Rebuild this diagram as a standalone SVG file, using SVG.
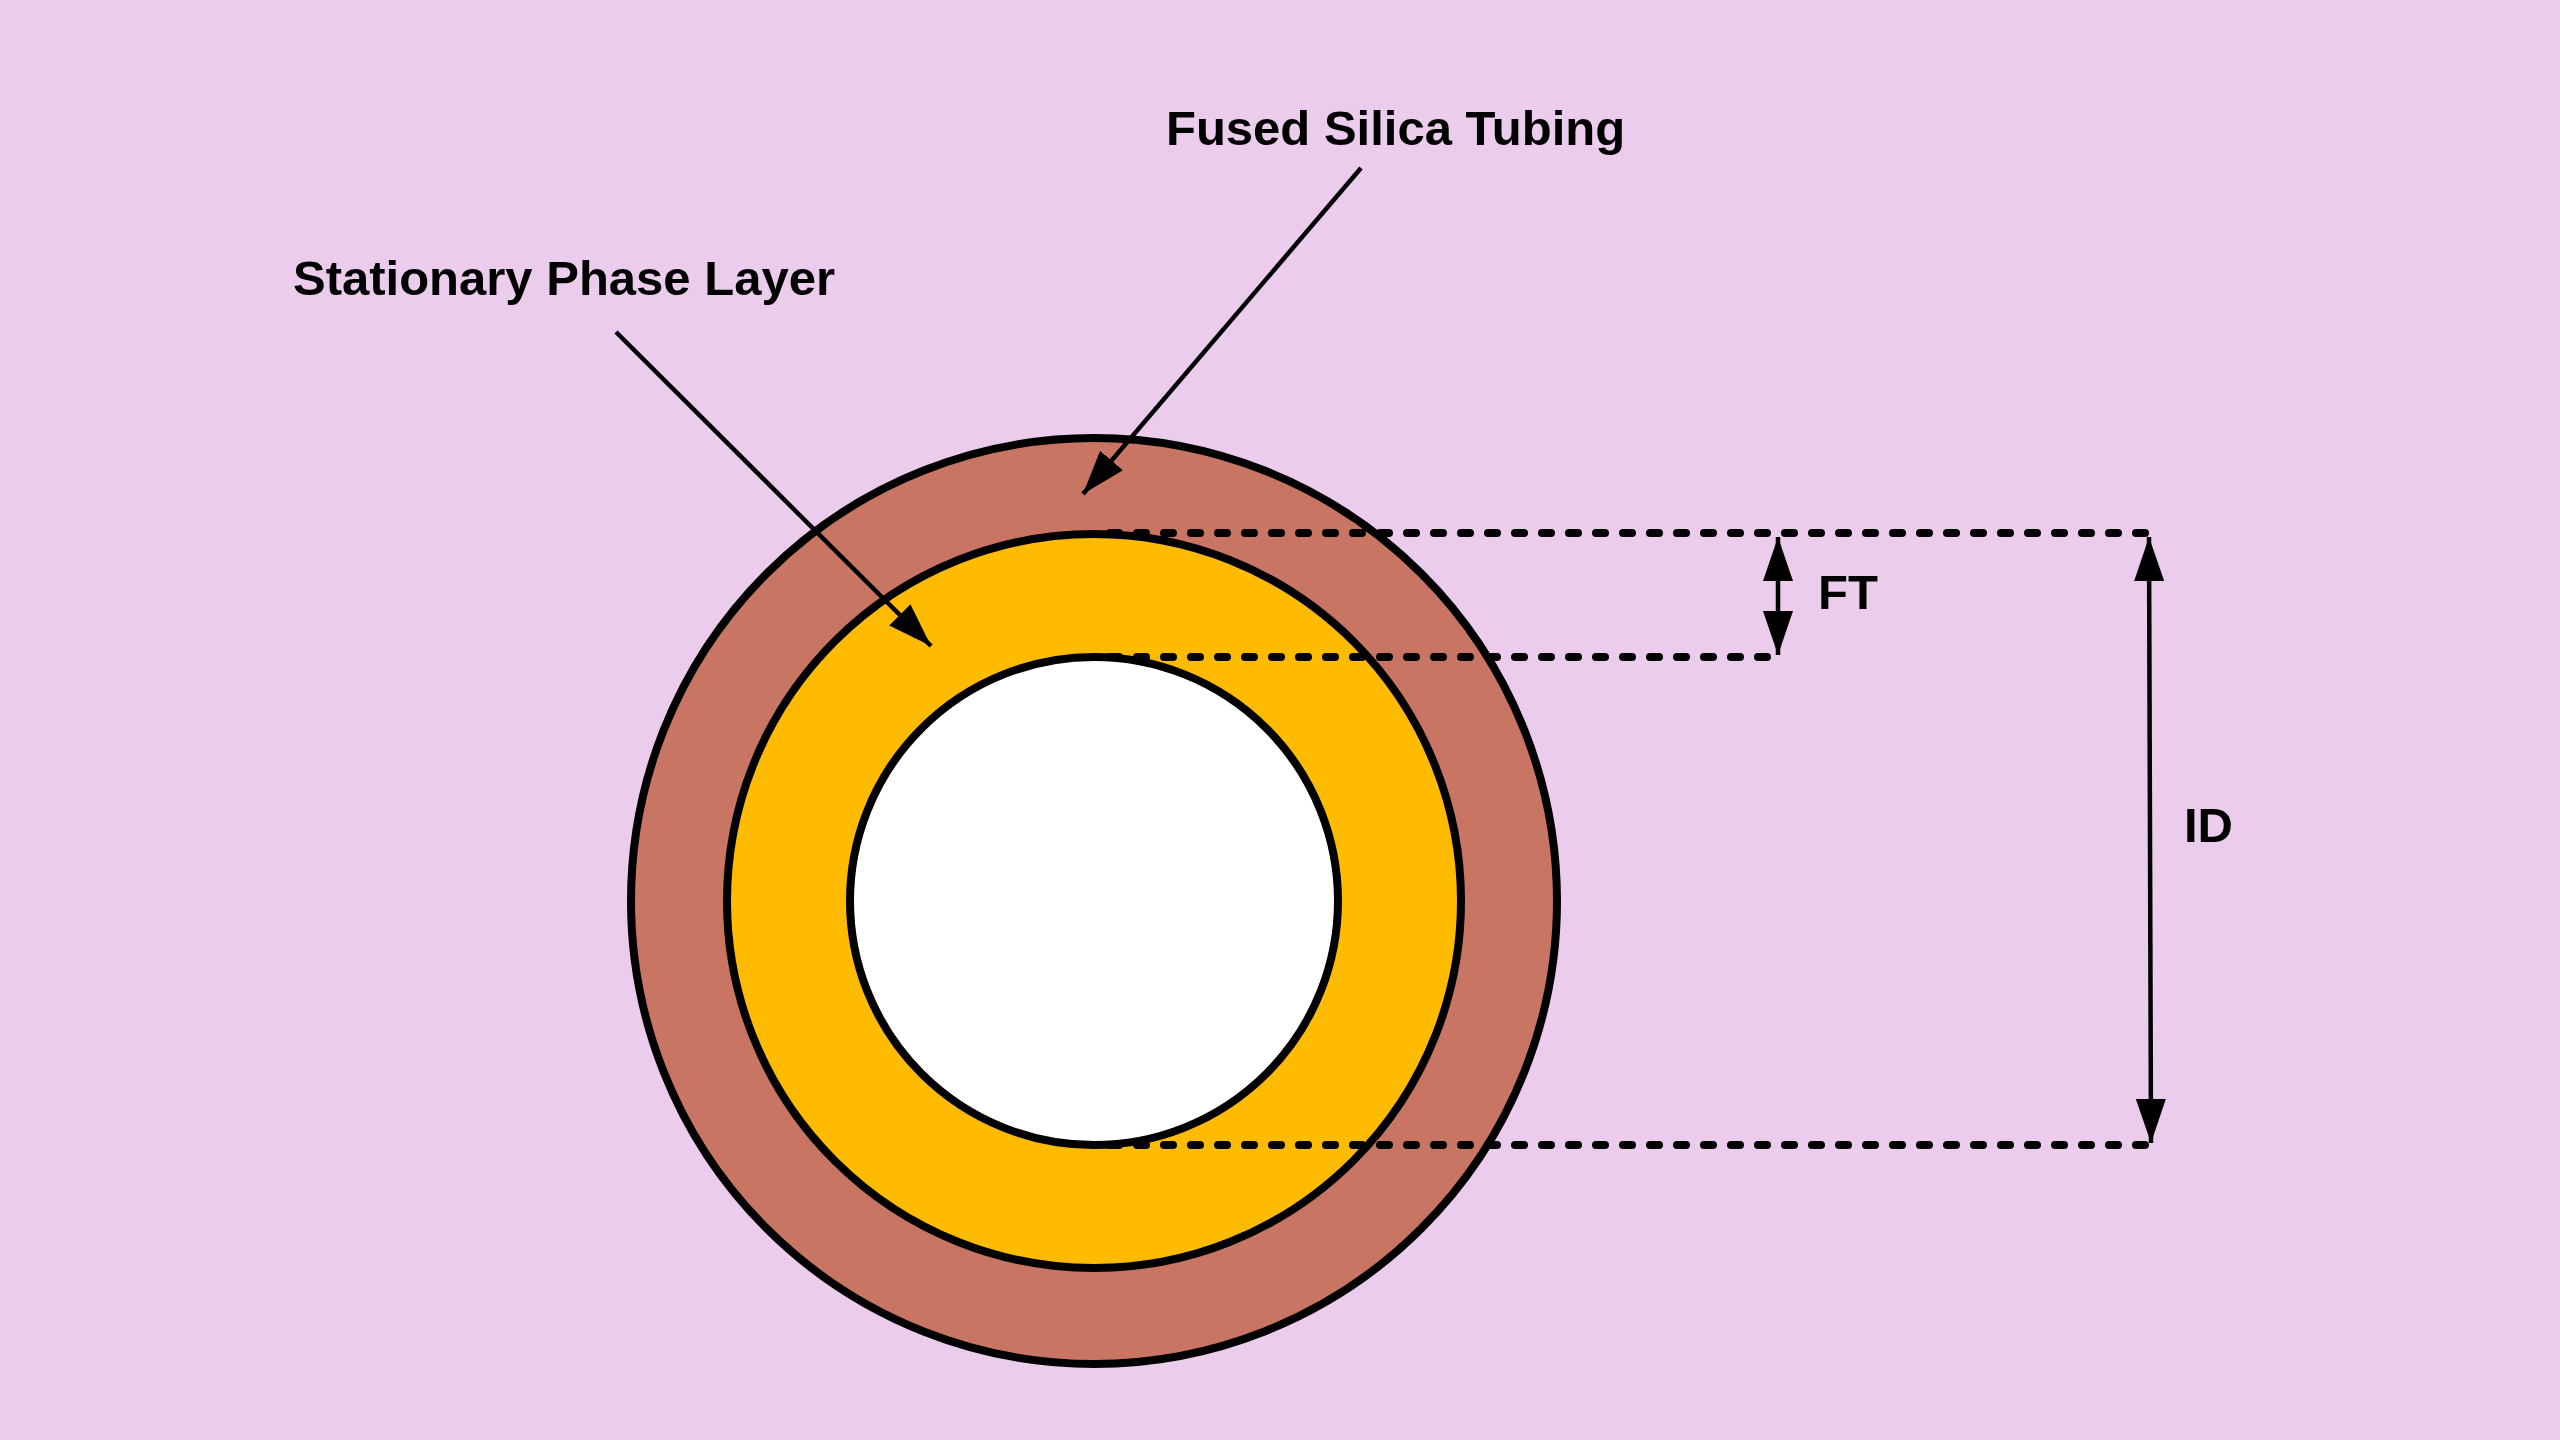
<svg xmlns="http://www.w3.org/2000/svg" width="2560" height="1440" viewBox="0 0 2560 1440">
<defs>
<style>
.ring{stroke:#000;stroke-width:8}
.dot{fill:none;stroke:#000;stroke-width:8;stroke-linecap:round;stroke-dasharray:9 18}
.lead{fill:none;stroke:#000;stroke-width:4.5}
.dim{fill:none;stroke:#000;stroke-width:4.5}
.lbl{font-family:"Liberation Sans",Arial,sans-serif;font-weight:bold;font-size:49px;fill:#000}
</style>
<marker id="ah" viewBox="0 0 44 30" refX="44" refY="15" markerWidth="44" markerHeight="30" markerUnits="userSpaceOnUse" orient="auto-start-reverse">
<path d="M0,0 L44,15 L0,30 Z" fill="#000"/>
</marker>
</defs>
<rect width="2560" height="1440" fill="#ECCCEC"/>
<g id="tube">
<circle class="ring" cx="1094" cy="901" r="463" fill="#C97564"/>
<circle class="ring" cx="1094" cy="901" r="367" fill="#FFBB00"/>
<circle class="ring" cx="1094" cy="901" r="244" fill="#FFFFFF"/>
</g>
<g id="connectors">
<path class="dot" d="M1110,533 H2148"/>
<path class="dot" d="M1110,657 H1768"/>
<path class="dot" d="M1110,1145 H2150"/>
<path class="dim" d="M1778,537 V655" marker-start="url(#ah)" marker-end="url(#ah)"/>
<path class="dim" d="M2149,537 L2151,1143" marker-start="url(#ah)" marker-end="url(#ah)"/>
<path class="lead" d="M1361,168 L1083,494" marker-end="url(#ah)"/>
<path class="lead" d="M616,332 L931,646" marker-end="url(#ah)"/>
</g>
<g id="label-fused"><text class="lbl" x="1166" y="145">Fused Silica Tubing</text></g>
<g id="label-stationary"><text class="lbl" x="293" y="295">Stationary Phase Layer</text></g>
<g id="label-ft"><text class="lbl" x="1818" y="609">FT</text></g>
<g id="label-id"><text class="lbl" x="2184" y="842">ID</text></g>
</svg>
